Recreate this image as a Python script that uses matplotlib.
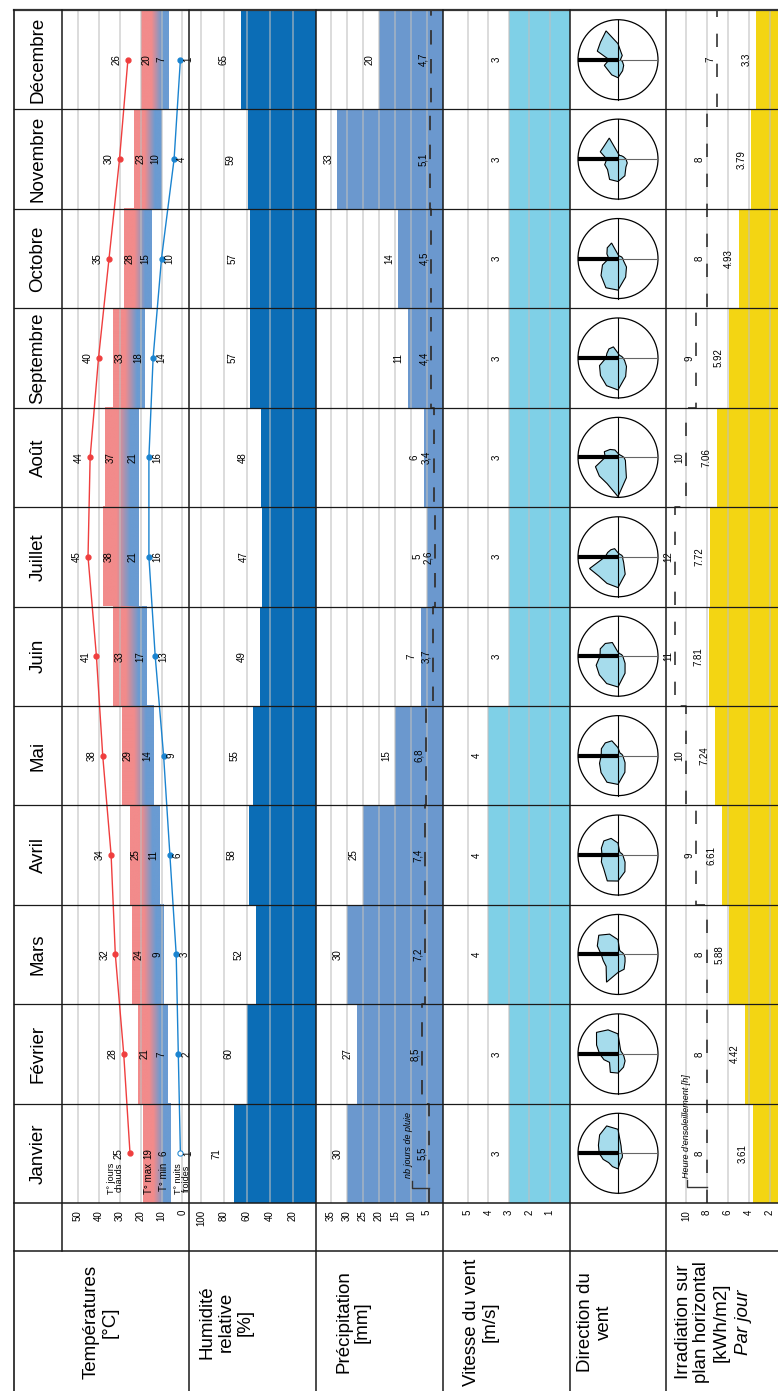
import numpy as np
import matplotlib
matplotlib.use("Agg")
import matplotlib.pyplot as plt
from matplotlib.colors import LinearSegmentedColormap
from matplotlib.patches import Circle, Polygon
from matplotlib.lines import Line2D
from matplotlib.transforms import IdentityTransform

plt.rcParams["font.family"] = ["Liberation Sans", "DejaVu Sans"]

# ---- data -------------------------------------------------------------
months = ["Janvier", "Février", "Mars", "Avril", "Mai", "Juin",
          "Juillet", "Août", "Septembre", "Octobre", "Novembre", "Décembre"]
t_hot = [25, 28, 32, 34, 38, 41, 45, 44, 40, 35, 30, 26]
t_max = [19, 21, 24, 25, 29, 33, 38, 37, 33, 28, 23, 20]
t_min = [6, 7, 9, 11, 14, 17, 21, 21, 18, 15, 10, 7]
t_cold = [1, 2, 3, 6, 9, 13, 16, 16, 14, 10, 4, 1]
humidity = [71, 60, 52, 58, 55, 49, 47, 48, 57, 57, 59, 65]
precip = [30, 27, 30, 25, 15, 7, 5, 6, 11, 14, 33, 20]
rain_days = [5.5, 8.5, 7.2, 7.4, 6.8, 3.7, 2.6, 3.4, 4.4, 4.5, 5.1, 4.7]
wind_speed = [3, 3, 4, 4, 4, 3, 3, 3, 3, 3, 3, 3]
sun_hours = [8, 8, 8, 9, 10, 11, 12, 10, 9, 8, 8, 7]
irradiation = [3.61, 4.42, 5.88, 6.61, 7.24, 7.81, 7.72, 7.06, 5.92, 4.93, 3.79, 3.3]

# wind rose, share per direction (N, NNE, NE ... NNW), one row per month
wind_dirs = np.arange(16) * 22.5
wind_rose = [
    [0.47, 0.53, 0.65, 0.74, 0.60, 0.20, 0.12, 0.10, 0.10, 0.12, 0.15, 0.18, 0.39, 0.36, 0.33, 0.40],
    [0.46, 0.58, 0.76, 0.65, 0.50, 0.15, 0.10, 0.10, 0.12, 0.16, 0.25, 0.36, 0.48, 0.50, 0.30, 0.38],
    [0.42, 0.56, 0.68, 0.55, 0.37, 0.11, 0.10, 0.12, 0.15, 0.19, 0.25, 0.40, 0.45, 0.75, 0.42, 0.40],
    [0.40, 0.45, 0.50, 0.45, 0.30, 0.10, 0.08, 0.10, 0.12, 0.15, 0.25, 0.45, 0.65, 0.70, 0.50, 0.45],
    [0.42, 0.45, 0.45, 0.40, 0.20, 0.10, 0.08, 0.10, 0.12, 0.15, 0.25, 0.45, 0.72, 0.72, 0.60, 0.50],
    [0.45, 0.48, 0.45, 0.37, 0.10, 0.08, 0.08, 0.10, 0.12, 0.15, 0.25, 0.46, 0.77, 0.74, 0.66, 0.59],
    [0.32, 0.28, 0.25, 0.22, 0.10, 0.08, 0.08, 0.10, 0.12, 0.13, 0.20, 0.47, 0.77, 0.72, 0.68, 0.77],
    [0.32, 0.37, 0.28, 0.20, 0.10, 0.08, 0.08, 0.10, 0.15, 0.20, 0.27, 0.55, 0.98, 0.71, 0.66, 0.61],
    [0.30, 0.30, 0.32, 0.30, 0.12, 0.08, 0.08, 0.10, 0.13, 0.18, 0.30, 0.50, 0.80, 0.75, 0.62, 0.50],
    [0.23, 0.30, 0.38, 0.42, 0.10, 0.07, 0.08, 0.10, 0.12, 0.15, 0.30, 0.50, 0.79, 0.79, 0.60, 0.42],
    [0.28, 0.48, 0.48, 0.57, 0.15, 0.10, 0.12, 0.15, 0.20, 0.25, 0.28, 0.45, 0.56, 0.55, 0.37, 0.36],
    [0.22, 0.56, 0.62, 0.78, 0.40, 0.20, 0.15, 0.08, 0.06, 0.12, 0.20, 0.30, 0.45, 0.41, 0.36, 0.37],
]

row_labels = ["Températures\n[°C]", "Humidité\nrelative\n[%]", "Précipitation\n[mm]",
              "Vitesse du vent\n[m/s]", "Direction du\nvent", "Irradiation sur\nplan horizontal\n[kWh/m2]"]

# ---- layout (pixels) --------------------------------------------------
W, H = 778, 1391
TOP, GRID_BOTTOM, LABEL_TOP = 10, 1203, 1251
LEFT = 14
COLS = [62, 189, 316, 443, 570, 666]
MONTH_H = (GRID_BOTTOM - TOP) / 12

fig = plt.figure(figsize=(W / 100, H / 100), dpi=100)


def px_axes(x0, x1, y0=TOP, y1=GRID_BOTTOM, **kw):
    return fig.add_axes([x0 / W, 1 - y1 / H, (x1 - x0) / W, (y1 - y0) / H], **kw)


def panel(x0, x1, vmax, vmin, ticks):
    ax = px_axes(x0, x1)
    ax.set_facecolor("none")
    for s in ax.spines.values():
        s.set_visible(False)
    ax.set_yticks([])
    ax.set_xticks(ticks)
    ax.set_xticklabels([str(t) for t in ticks], rotation=90, fontsize=7)
    ax.tick_params(axis="x", length=0, pad=5)
    for t in ticks:
        ax.axvline(t, color="#bfbfbf", alpha=0.6, lw=1.3, zorder=3)
    ax.set_xlim(vmax, vmin)   # values grow to the left (chart is turned)
    ax.set_ylim(0, 12)
    return ax


def overlay(x0, x1, vmax, vmin):
    # second value scale sharing a panel, no ticks
    ax = px_axes(x0, x1)
    ax.axis("off")
    ax.set_xlim(vmax, vmin)
    ax.set_ylim(0, 12)
    return ax


def label(ax, text, x, y, dx, ha, va="center", **kw):
    ax.annotate(text, xy=(x, y), xytext=(dx * 0.72, 0), textcoords="offset points",
                rotation=90, ha=ha, va=va, fontsize=kw.pop("fontsize", 7), zorder=6, **kw)


def leader(ax, x, y, dx_px, dy_px):
    # small bracket from a legend text to the start of a line
    px, py = ax.transData.transform((x, y))
    pts = np.array([[px + dx_px, py + dy_px], [px + dx_px, py], [px, py]])
    fig.add_artist(Line2D(pts[:, 0], pts[:, 1], color="#333333", lw=1,
                          transform=IdentityTransform()))


def step_xy(values):
    ys = np.repeat(np.arange(13), 2)[1:-1]
    xs = np.repeat(values, 2)
    return xs, ys


yc = np.arange(12) + 0.5

# month header
axm = px_axes(LEFT, COLS[0])
axm.axis("off")
axm.set_xlim(0, 1)
axm.set_ylim(0, 12)
for i, m in enumerate(months):
    axm.text(0.5, yc[i], m, rotation=90, ha="center", va="center", fontsize=13.5)

# temperatures
axt = panel(COLS[0], COLS[1], 57.4, -3.1, [0, 10, 20, 30, 40, 50])
cmap = LinearSegmentedColormap.from_list(
    "tb", [(0, "#f28b8b"), (0.38, "#f28b8b"), (0.75, "#6a9bd2"), (1, "#6a9bd2")])
grad = np.linspace(0, 1, 256).reshape(1, -1)
for i in range(12):
    axt.imshow(grad, cmap=cmap, aspect="auto", extent=(t_max[i], t_min[i], i, i + 1),
               zorder=1, interpolation="bilinear")
axt.plot(t_hot, yc, color="#ef3e3e", lw=1, marker="o", ms=3.5, zorder=4)
axt.plot(t_cold, yc, color="#1b84d0", lw=1, marker="o", ms=3.5, zorder=4)
axt.plot(t_cold[:1], yc[:1], ls="none", marker="o", ms=2, color="white", zorder=5)
for i in range(12):
    label(axt, str(t_hot[i]), t_hot[i], yc[i], -6, "right")
    label(axt, str(t_max[i]), t_max[i], yc[i], 1, "left")
    label(axt, str(t_min[i]), t_min[i], yc[i], -1, "right")
    label(axt, str(t_cold[i]), t_cold[i], yc[i], 3, "left")
label(axt, "T° jours\nchauds", t_hot[0], 0.4, -6, "right", va="top", fontsize=6.5, linespacing=0.85)
label(axt, "T° max", t_max[0], 0.4, 1, "left", va="top")
label(axt, "T° min", t_min[0], 0.4, -1, "right", va="top")
label(axt, "T° nuits\nfroides", t_cold[0], 0.4, 2, "center", va="top", fontsize=6.5, linespacing=0.85)
axt.set_xlim(57.4, -3.1)
axt.set_ylim(0, 12)

# humidity
axh = panel(COLS[1], COLS[2], 110.4, 0, [20, 40, 60, 80, 100])
axh.barh(yc, humidity, height=1, color="#0b6db6", zorder=1)
for i in range(12):
    label(axh, str(humidity[i]), humidity[i], yc[i], -13, "right")

# precipitation + rain days (own, tighter scale)
axp = panel(COLS[2], COLS[3], 39.7, 0, [5, 10, 15, 20, 25, 30, 35])
axp.barh(yc, precip, height=1, color="#6b98ce", zorder=1)
for i in range(12):
    label(axp, str(precip[i]), precip[i], yc[i], -4, "right")
axd = overlay(COLS[2], COLS[3], 56.8, -0.9)
xs, ys = step_xy(rain_days)
axd.plot(xs, ys, color="#333333", lw=1.3, ls=(0, (8, 8)), zorder=5)
for i in range(12):
    label(axd, f"{rain_days[i]:.1f}".replace(".", ","), rain_days[i], yc[i], -2, "right")
label(axd, "nb jours de pluie", rain_days[0], 0.25, -16, "right", va="bottom",
      fontsize=6.5, style="italic")
leader(axd, rain_days[0], 0.15, -17, 7)

# wind speed
axw = panel(COLS[3], COLS[4], 6.22, 0, [1, 2, 3, 4, 5])
axw.barh(yc, wind_speed, height=1, color="#7fd0e7", zorder=1)
for i in range(12):
    label(axw, str(wind_speed[i]), wind_speed[i], yc[i], -7, "right")

# wind direction roses (north drawn to the left, as the chart is turned)
ang = np.deg2rad(wind_dirs)
for i in range(12):
    cy = GRID_BOTTOM - (i + 0.5) * MONTH_H
    axr = px_axes(618 - 45, 618 + 45, cy - 45, cy + 45)
    axr.set_xlim(-1.125, 1.125)
    axr.set_ylim(-1.125, 1.125)
    axr.axis("off")
    r = np.array(wind_rose[i])
    axr.add_patch(Polygon(np.column_stack([-r * np.cos(ang), r * np.sin(ang)]),
                          closed=True, fc="#a6dcec", ec="black", lw=0.8, zorder=1))
    axr.add_patch(Circle((0, 0), 1, fill=False, ec="black", lw=0.9, zorder=2))
    axr.plot([0, 1], [0, 0], color="#666666", lw=0.8, zorder=2)
    axr.plot([0, 0], [-1, 1], color="black", lw=0.8, zorder=2)
    axr.plot([-1, 0], [0, 0], color="black", lw=3, zorder=3, solid_capstyle="butt")

# irradiation + sunshine hours (panel runs past the right edge)
axi = panel(COLS[5], 791, 11.9, 0, [2, 4, 6, 8, 10])
axi.barh(yc, irradiation, height=1, color="#f3d513", zorder=1)
sun_drawn = np.minimum(sun_hours, 11)   # the source chart caps the line at 11 h
xs, ys = step_xy(sun_drawn)
axi.plot(xs, ys, color="#333333", lw=1.2, ls=(0, (8, 10)), zorder=5)
for i in range(12):
    label(axi, f"{irradiation[i]:g}", irradiation[i], yc[i], -5, "right")
    label(axi, str(sun_hours[i]), sun_drawn[i], yc[i], -2, "right")
label(axi, "Heure d'ensoleillement [h]", sun_hours[0], 0.25, -16, "right", va="bottom",
      fontsize=6.5, style="italic")
leader(axi, sun_hours[0], 0.16, -20, 7)

# row labels
label_x = [101, 226, 353, 481, 595, 702]
for x, txt in zip(label_x, row_labels):
    fig.text(x / W, 1 - 1322 / H, txt, rotation=90, ha="center", va="center",
             fontsize=13.5, multialignment="center", linespacing=1.15)
fig.text(743 / W, 1 - 1322 / H, "Par jour", rotation=90, ha="center", va="center",
         fontsize=13.5, style="italic")

# frame
axf = fig.add_axes([0, 0, 1, 1], zorder=10)
axf.set_xlim(0, W)
axf.set_ylim(H, 0)
axf.axis("off")
axf.set_facecolor("none")
lc = "#1a1a1a"
axf.plot([LEFT, W], [TOP, TOP], color="#333333", lw=1.6)
axf.plot([LEFT, LEFT], [TOP, H], color=lc, lw=1.2)
for k in range(1, 12):
    y = TOP + k * MONTH_H
    axf.plot([LEFT, W], [y, y], color=lc, lw=0.9)
axf.plot([LEFT, W], [GRID_BOTTOM, GRID_BOTTOM], color=lc, lw=1.1)
axf.plot([LEFT, W], [LABEL_TOP, LABEL_TOP], color=lc, lw=1.1)
axf.plot([COLS[0], COLS[0]], [TOP, LABEL_TOP], color=lc, lw=1.1)
for x in COLS[1:]:
    axf.plot([x, x], [TOP, H], color=lc, lw=1.1)

fig.savefig("out.png", dpi=100)
